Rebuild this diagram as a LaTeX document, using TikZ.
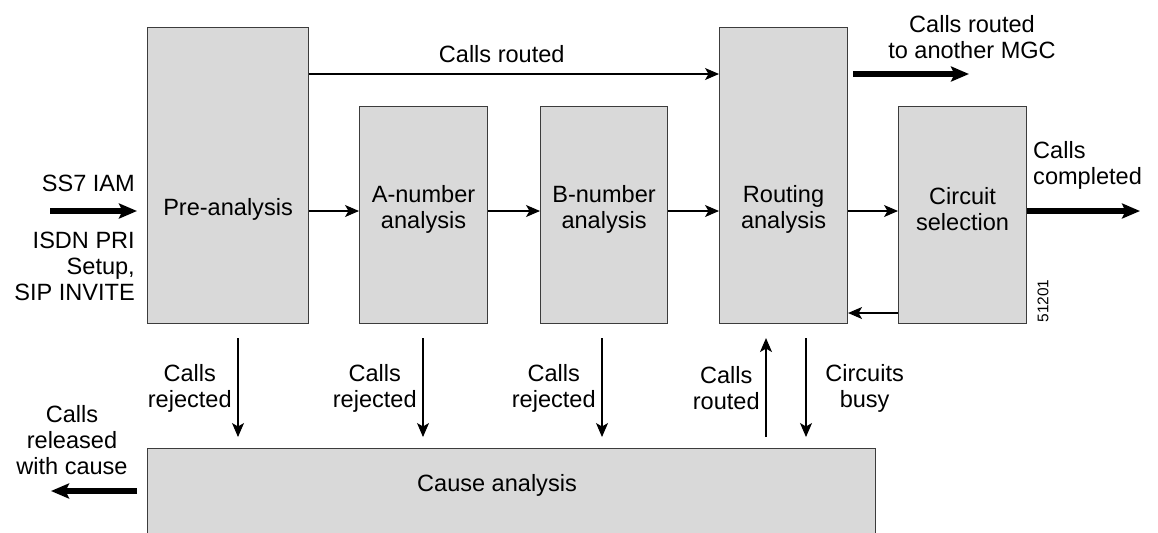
\documentclass[tikz,border=0pt]{standalone}
\usepackage{fontspec}
\setmainfont{Liberation Sans}
\usetikzlibrary{arrows.meta}
\definecolor{boxgray}{RGB}{217,217,217}
\definecolor{edgegray}{RGB}{60,60,60}

\begin{document}
\begin{tikzpicture}[
        font=\fontsize{13.4}{14.8}\selectfont,
        stage/.style={draw=edgegray, line width=0.6pt, fill=boxgray, inner sep=0pt},
        flow/.style={-{Stealth[length=0.28cm, width=0.24cm, inset=0.07cm]}, line width=0.6pt},
        bigflow/.style={-{Stealth[length=0.36cm, width=0.30cm, inset=0.07cm]}, line width=3.2pt},
    ]
            % page frame
            \useasboundingbox (0, 0) rectangle (23.16, -10.64);

            % rows used by the horizontal connectors
            \coordinate (top) at (0, -1.48);
            \coordinate (row) at (0, -4.22);
            \coordinate (txt) at (0, -4.18);
            \coordinate (back) at (0, -6.26);
            \coordinate (rel) at (0, -9.82);

            % the analysis stages
            \node[stage, anchor=north west, minimum width=3.22cm, minimum height=5.92cm] (pre) at (2.94, -0.54) {};
            \node[stage, anchor=north west, minimum width=2.56cm, minimum height=4.34cm] (anum) at (7.18, -2.12) {};
            \node[stage, anchor=north west, minimum width=2.54cm, minimum height=4.34cm] (bnum) at (10.80, -2.12) {};
            \node[stage, anchor=north west, minimum width=2.56cm, minimum height=5.92cm] (route) at (14.38, -0.54) {};
            \node[stage, anchor=north west, minimum width=2.56cm, minimum height=4.34cm] (circ) at (17.96, -2.12) {};
            \node[stage, anchor=north west, minimum width=14.56cm, minimum height=2.2cm] (cause) at (2.94, -8.96) {};

            \node[align=center] (pre-t) at (pre |- txt) {Pre-analysis};
            \node[align=center] (anum-t) at (anum |- txt) {A-number\\analysis};
            \node[align=center] (bnum-t) at (bnum |- txt) {B-number\\analysis};
            \node[align=center] (route-t) at (route |- txt) {Routing\\analysis};
            \node[align=center] (circ-t) at (circ |- txt) {Circuit\\selection};
            \node (cause-t) at (9.94, -9.70) {Cause analysis};

            % main call flow
            \draw[flow] (pre.east |- row) -- (anum.west |- row);
            \draw[flow] (anum.east |- row) -- (bnum.west |- row);
            \draw[flow] (bnum.east |- row) -- (route.west |- row);
            \draw[flow] (route.east |- row) -- (circ.west |- row);
            \draw[flow] (circ.west |- back) -- (route.east |- back);
            \draw[flow] (pre.east |- top) --
            node[pos=0.47, above=0.1cm] (routed-t) {Calls routed}
            (route.west |- top);

            % calls in and out
            \coordinate (in-start) at (1.00, -4.22);
            \draw[bigflow, shorten >=0.2cm] (in-start) -- (pre.west |- row);
            \node[anchor=east] (ss7-t) at (2.82, -3.66) {SS7 IAM};
            \node[anchor=east, align=right] (isdn-t) at (2.82, -5.32) {ISDN PRI\\Setup,\\SIP INVITE};

            \coordinate (mgc-end) at (19.38, -1.48);
            \draw[bigflow, shorten <=0.1cm] (route.east |- top) -- (mgc-end);
            \node[align=center] (mgc-t) at (19.44, -0.74) {Calls routed\\to another MGC};

            \coordinate (done-end) at (22.80, -4.22);
            \draw[bigflow] (circ.east |- row) -- (done-end);
            \node[anchor=west, align=left] (done-t) at (20.54, -3.31) {Calls\\completed};

            \coordinate (rel-end) at (1.02, -9.82);
            \draw[bigflow, shorten <=0.2cm] (cause.west |- rel) -- (rel-end);
            \node[align=center] (rel-t) at (1.44, -8.80) {Calls\\released\\with cause};

            % to and from cause analysis
            \foreach \n/\x in {pre/4.76, anum/8.46, bnum/12.04}{
            \coordinate (col) at (\x, 0);
            \draw[flow, shorten <=0.28cm, shorten >=0.22cm] (pre.south -| col) --
            node[pos=0.52, left, align=center] (\n-rej) {Calls\\rejected}
            (cause.north -| col);
            }
            \coordinate (up-col) at (15.32, 0);
            \coordinate (down-col) at (16.12, 0);
            \draw[flow, shorten <=0.22cm, shorten >=0.28cm] (cause.north -| up-col) --
            node[pos=0.48, left, align=center] (up-t) {Calls\\routed}
            (route.south -| up-col);
            \draw[flow, shorten <=0.28cm, shorten >=0.22cm] (route.south -| down-col) --
            node[pos=0.52, right=0.26cm, align=center] (busy-t) {Circuits\\busy}
            (cause.north -| down-col);

            \node[rotate=90, font=\fontsize{8.8}{10}\selectfont] (fig-id) at (20.86, -6.02) {51201};
        \end{tikzpicture}
\end{document}
